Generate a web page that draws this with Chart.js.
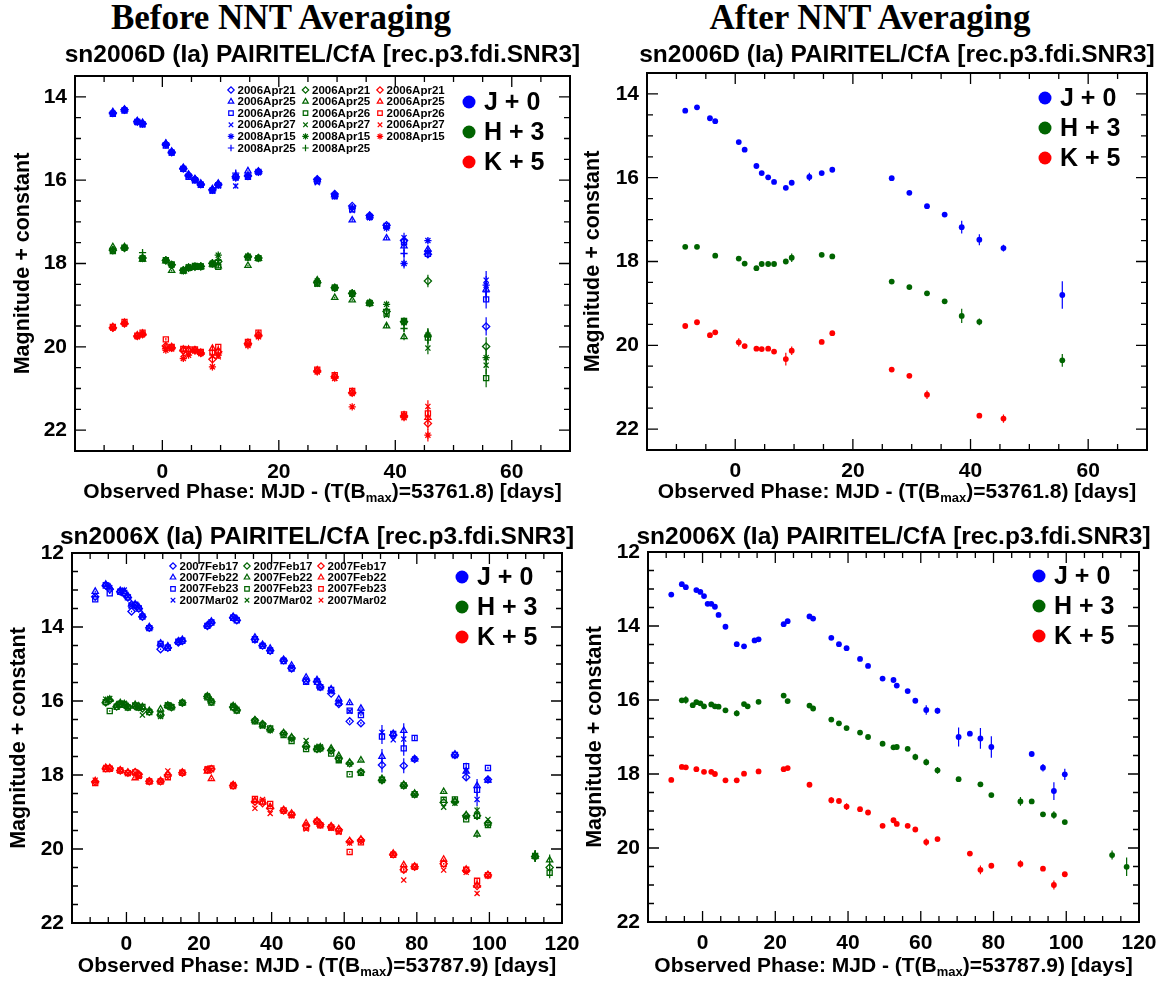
<!DOCTYPE html>
<html>
<head>
<meta charset="utf-8">
<script src="https://cdn.jsdelivr.net/npm/chart.js@4.4.1/dist/chart.umd.min.js"></script>
<style>
  body { margin: 0; background: #fff; width: 1163px; height: 981px; position: relative; overflow: hidden; }
  .head { position: absolute; top: 0; height: 36px; line-height: 36px; text-align: center;
          font-family: "Liberation Serif", "DejaVu Serif", serif; font-weight: bold; font-size: 35px; color: #000; }
  canvas { position: absolute; }
</style>
</head>
<body>
<div class="head" style="left:0;width:562px">Before NNT Averaging</div>
<div class="head" style="left:600px;width:540px">After NNT Averaging</div>
<canvas id="tl" width="581" height="482" style="left:0;top:30px"></canvas>
<canvas id="tr" width="582" height="482" style="left:581px;top:30px"></canvas>
<canvas id="bl" width="581" height="469" style="left:0;top:512px"></canvas>
<canvas id="br" width="582" height="469" style="left:581px;top:512px"></canvas>
<script>
// ---------- sn2006D ----------
const phaseD = [-8.5,-6.5,-4.3,-3.4,0.6,1.6,3.6,4.5,5.6,6.6,8.6,9.6,12.6,14.7,16.5,26.6,29.6,32.6,35.6,38.5,41.5,45.6,55.6];
const tmplD = ['2006Apr21','2006Apr25','2006Apr26','2006Apr27','2008Apr15','2008Apr25'];

// per template, before averaging
const jD_Apr21 = [14.39,14.31,14.60,14.64,15.14,15.33,15.72,15.88,15.98,16.10,16.23,16.10,15.92,15.90,15.80,15.98,16.33,16.62,16.85,17.08,17.45,17.78,19.51];
const jD_Apr25 = [14.36,14.30,14.58,14.62,15.12,15.31,15.70,15.86,15.97,16.08,16.21,16.08,15.90,15.78,15.79,15.99,16.35,16.96,16.86,17.39,17.58,17.66,18.62];
const jD_Apr26 = [14.41,14.33,14.60,14.66,15.17,15.34,15.73,15.92,16.00,16.11,16.25,16.12,15.93,15.92,15.80,16.02,16.38,16.70,16.88,17.10,17.49,17.77,18.86];
const jD_Apr27 = [14.40,14.32,14.62,14.67,15.16,15.35,15.74,15.90,16.02,16.12,16.26,16.14,16.14,15.91,15.82,16.06,16.40,16.73,16.90,17.12,17.38,17.73,18.40];
const jD_08Apr15 = [14.40,14.31,14.59,14.65,15.15,15.33,15.72,15.89,16.00,16.10,16.24,16.12,15.95,15.90,15.81,16.00,16.37,16.66,16.89,17.15,18.00,17.45,18.52];
const jD_08Apr25 = [14.38,14.30,14.57,14.64,15.11,15.32,15.71,15.88,15.99,16.09,16.22,16.10,15.83,15.88,15.78,15.99,16.38,16.68,16.89,17.13,17.76,17.70,18.68];
const jD_err = [.02,.02,.02,.02,.03,.02,.02,.02,.02,.02,.02,.02,.06,.02,.02,.02,.02,.04,.02,.04,.12,.05,.22];

const hD_Apr21 = [17.68,17.63,null,17.87,17.93,18.03,18.16,18.10,18.08,18.07,18.00,17.95,null,17.84,17.87,18.46,18.58,18.72,18.95,19.15,19.40,18.42,19.99];
const hD_Apr25 = [17.60,17.60,null,17.90,17.94,18.17,18.18,18.12,18.10,18.08,18.02,18.06,null,18.05,17.88,18.40,18.82,18.88,18.96,19.50,19.76,19.70,null];
const hD_Apr26 = [17.70,17.62,null,17.88,17.92,18.02,18.17,18.10,18.06,18.07,18.02,18.08,null,17.86,17.87,18.48,18.58,18.73,18.95,19.20,19.38,19.78,20.75];
const hD_Apr27 = [17.69,17.63,null,17.90,17.93,18.04,18.19,18.12,18.09,18.09,18.01,17.96,null,17.84,17.88,18.50,18.60,18.74,18.96,19.24,19.42,20.03,20.44];
const hD_08Apr15 = [17.68,17.62,null,17.87,17.92,18.03,18.17,18.08,18.07,18.06,17.99,17.80,null,17.82,17.88,18.42,18.57,18.70,18.93,18.98,19.40,19.72,20.26];
const hD_08Apr25 = [17.66,17.61,null,17.74,17.92,18.04,18.16,18.10,18.07,18.07,17.98,17.92,null,17.85,17.86,18.44,18.60,18.72,18.94,19.10,19.56,19.76,null];
const hD_err = [.02,.02,null,.03,.02,.02,.02,.02,.02,.02,.02,.03,null,.02,.02,.02,.02,.02,.02,.05,.08,.15,.22];

const kD_Apr21 = [19.54,19.44,19.74,19.70,19.98,20.02,20.08,20.10,20.08,20.15,20.30,20.12,null,19.92,19.72,20.58,20.72,21.10,null,null,21.66,21.84,null];
const kD_Apr25 = [19.52,19.42,19.72,19.68,20.00,20.00,20.06,20.06,20.08,20.14,20.04,20.10,null,19.90,19.70,20.56,20.70,21.08,null,null,21.64,21.70,null];
const kD_Apr26 = [19.52,19.40,19.73,19.66,19.82,20.00,20.05,20.06,20.06,20.12,20.14,20.00,null,19.88,19.66,20.55,20.68,21.06,null,null,21.62,21.60,null];
const kD_Apr27 = [19.55,19.45,19.76,19.71,20.04,20.05,20.18,20.14,20.10,20.16,20.22,20.24,null,19.95,19.74,20.60,20.76,21.12,null,null,21.68,21.43,null];
const kD_08Apr15 = [19.55,19.44,19.75,19.70,20.08,20.03,20.28,20.20,20.10,20.16,20.48,20.20,null,19.97,19.76,20.60,20.75,21.44,null,null,21.70,22.12,null];
const kD_err = [.02,.02,.02,.02,.03,.02,.04,.02,.02,.02,.08,.04,null,.02,.02,.02,.02,.04,null,null,.06,.15,null];

// after averaging
const jD_avg = [14.40,14.32,14.58,14.65,15.15,15.33,15.72,15.89,15.99,16.10,16.24,16.12,15.98,15.89,15.81,16.01,16.36,16.68,16.88,17.18,17.48,17.68,18.80];
const jD_avgErr = [.02,.02,.02,.02,.02,.02,.02,.02,.02,.02,.02,.03,.10,.02,.02,.02,.02,.02,.03,.15,.13,.08,.33];
const hD_avg = [17.65,17.65,null,17.86,17.93,18.05,18.16,18.06,18.06,18.06,18.00,17.91,null,17.84,17.88,18.48,18.61,18.76,18.95,19.30,19.44,null,20.36];
const hD_avgErr = [.02,.02,null,.02,.02,.02,.02,.02,.02,.02,.02,.10,null,.02,.02,.02,.02,.02,.02,.17,.08,null,.15];
const kD_avg = [19.54,19.45,19.76,19.69,19.93,20.02,20.08,20.09,20.08,20.15,20.33,20.13,null,19.92,19.71,20.58,20.73,21.18,null,null,21.68,21.75,null];
const kD_avgErr = [.02,.02,.02,.02,.10,.02,.02,.02,.02,.02,.15,.10,null,.02,.02,.02,.02,.10,null,null,.05,.10,null];

// ---------- sn2006X ----------
const phaseX = [-8.6,-5.7,-4.6,-2.7,-1.7,-0.6,0.4,1.4,2.4,3.4,4.4,6.3,9.4,11.4,12.4,14.3,15.4,22.3,23.4,29.4,30.4,35.4,37.5,39.6,43.3,45.5,49.5,52.5,53.4,56.4,58.5,61.5,64.6,70.4,73.5,76.4,79.4,87.4,90.5,93.6,96.6,99.6,112.6,116.6];
const tmplX = ['2007Feb17','2007Feb22','2007Feb23','2007Mar02'];

const jX_Feb17 = [13.18,12.88,12.98,null,13.04,13.10,13.20,13.58,13.42,13.50,13.72,14.02,14.60,14.56,null,14.42,14.38,13.97,13.88,13.74,13.82,14.34,14.50,14.64,14.90,15.12,15.45,15.48,15.62,15.80,16.08,16.55,16.60,17.73,16.92,17.75,17.57,null,17.46,18.06,null,18.12,null,null];
const jX_Feb22 = [13.04,12.85,12.92,null,13.02,13.04,13.16,13.38,13.38,13.46,13.68,14.00,14.44,14.52,null,14.38,14.34,13.95,13.85,13.72,13.78,14.28,14.48,14.58,14.88,15.04,15.36,15.43,15.60,15.68,15.95,16.05,16.20,17.50,16.88,16.80,17.57,null,17.44,17.90,18.29,18.14,null,null];
const jX_Feb23 = [13.25,12.88,13.09,null,13.05,13.08,13.20,13.42,13.40,13.50,13.72,14.03,14.46,14.56,null,14.40,14.37,13.97,13.88,13.75,13.82,14.33,14.51,14.64,14.92,15.12,15.48,15.48,15.63,15.70,16.05,16.26,16.38,16.96,16.89,17.28,17.00,null,17.46,17.76,18.40,17.81,null,null];
const jX_Mar02 = [13.15,12.86,12.94,null,13.03,13.00,13.18,13.42,13.41,13.49,13.71,14.02,14.48,14.55,null,14.40,14.36,13.96,13.87,13.74,13.80,14.36,14.50,14.62,14.90,15.10,15.44,15.46,15.62,15.75,16.02,16.28,16.30,16.85,17.05,17.03,17.57,null,17.47,17.88,18.66,18.14,null,null];
const jX_err = [.02,.02,.02,null,.02,.02,.02,.02,.02,.02,.02,.02,.02,.02,null,.02,.02,.02,.02,.02,.02,.02,.02,.02,.02,.02,.02,.02,.02,.02,.02,.03,.03,.20,.02,.20,.06,null,.02,.09,.18,.03,null,null];

const hX_Feb17 = [null,16.04,15.98,16.15,16.08,16.10,16.16,null,16.14,16.16,16.20,16.29,16.38,16.13,16.17,null,16.05,15.88,16.02,16.16,16.24,16.52,16.62,16.77,16.88,17.00,17.22,17.30,17.28,17.34,17.56,17.68,17.92,18.14,null,18.28,18.52,18.74,18.72,19.10,19.10,19.30,20.20,20.50];
const hX_Feb22 = [null,16.00,15.96,16.12,16.05,16.08,16.15,null,16.10,16.14,16.16,16.26,16.22,16.12,16.16,null,16.05,15.87,16.00,16.13,16.22,16.52,16.64,16.76,16.86,16.98,17.20,17.27,17.25,17.28,17.48,17.66,17.60,18.10,null,18.26,18.50,18.45,18.70,19.08,19.60,19.30,20.20,20.30];
const hX_Feb23 = [null,16.03,16.27,16.16,16.08,16.10,16.18,null,16.12,16.18,16.16,16.30,16.36,16.12,16.17,null,16.05,15.90,16.04,16.17,16.26,16.55,16.66,16.74,16.92,17.08,17.30,17.30,17.28,17.42,17.60,17.98,17.94,18.13,null,18.28,18.52,18.67,18.66,19.20,19.10,19.35,20.19,20.64];
const hX_Mar02 = [null,15.95,15.93,16.14,16.06,16.06,16.16,null,16.12,16.18,16.38,16.28,16.42,16.10,16.15,null,16.04,15.86,16.00,16.12,16.22,16.54,16.68,16.80,16.88,17.02,17.07,17.26,17.24,17.36,17.58,17.70,17.95,18.15,null,18.30,18.54,18.87,18.76,19.12,18.95,19.20,20.18,null];
const hX_err = [null,.02,.02,.02,.02,.02,.02,null,.02,.02,.02,.02,.02,.02,.02,null,.02,.02,.02,.02,.02,.02,.02,.02,.02,.02,.02,.02,.02,.02,.02,.02,.02,.03,null,.02,.02,.02,.02,.02,.10,.02,.15,.15];

const kX_Feb17 = [18.18,17.82,17.82,null,17.88,null,17.94,null,17.92,17.98,null,18.17,18.17,18.00,null,null,17.94,17.86,17.84,18.28,null,18.72,18.76,18.90,18.96,19.06,19.38,19.25,19.34,19.40,19.48,19.80,19.76,null,20.14,20.56,20.48,20.40,null,20.58,21.00,20.70,null,null];
const kX_Feb22 = [18.16,17.80,17.81,null,17.87,null,17.93,null,18.08,18.00,null,18.17,18.16,17.98,null,null,17.93,17.90,18.10,18.27,null,18.70,18.74,18.86,18.94,19.04,19.30,19.24,19.33,19.38,19.46,19.78,19.74,null,20.12,20.43,20.47,20.28,null,20.55,20.98,20.70,null,null];
const kX_Feb23 = [18.22,17.84,17.83,null,17.88,null,17.95,null,17.93,18.02,null,18.18,18.18,18.06,null,null,17.94,17.86,17.82,18.30,null,18.65,18.72,18.78,18.96,19.08,19.42,19.26,19.36,19.42,19.52,20.08,19.82,null,20.16,20.55,20.48,20.40,null,20.56,20.86,20.71,null,null];
const kX_Mar02 = [18.14,17.80,17.84,null,17.88,null,17.96,null,17.95,18.04,null,18.16,18.16,17.89,null,null,17.93,17.83,17.86,18.26,null,18.90,18.66,19.04,18.97,19.10,19.46,19.27,19.36,19.44,19.55,19.84,19.78,null,20.14,20.84,20.49,20.57,null,20.63,21.20,20.72,null,null];
const kX_err = [.02,.02,.02,null,.02,null,.02,null,.02,.02,null,.02,.02,.02,null,null,.02,.02,.02,.02,null,.02,.02,.02,.02,.02,.02,.02,.02,.02,.02,.02,.02,null,.02,.03,.02,.02,null,.02,.05,.02,null,null];

const jX_avg = [13.15,12.87,12.95,null,13.03,13.08,13.19,13.40,13.40,13.48,13.70,14.02,14.49,14.55,null,14.39,14.36,13.95,13.87,13.74,13.80,14.32,14.49,14.60,14.89,15.08,15.42,15.46,15.61,15.76,16.02,16.27,16.29,17.00,16.91,17.04,17.27,null,17.46,17.83,18.46,18.01,null,null];
const jX_avgErr = [.02,.02,.02,null,.02,.02,.02,.04,.03,.03,.02,.02,.02,.02,null,.02,.02,.02,.02,.02,.02,.02,.02,.02,.02,.02,.02,.02,.02,.02,.02,.13,.08,.26,.05,.28,.29,null,.02,.10,.24,.15,null,null];
const hX_avg = [null,16.01,16.00,16.14,16.06,16.09,16.17,null,16.12,16.17,16.18,16.28,16.36,16.11,16.17,null,16.05,15.88,16.03,16.15,16.23,16.53,16.63,16.76,16.88,17.00,17.18,17.28,17.27,17.32,17.54,17.68,17.90,18.14,null,18.28,18.57,18.74,18.74,19.09,19.11,19.30,20.19,20.51];
const hX_avgErr = [null,.03,.10,.02,.02,.02,.02,null,.02,.02,.06,.02,.08,.02,.02,null,.02,.02,.02,.02,.02,.02,.02,.02,.02,.02,.07,.02,.02,.02,.09,.09,.09,.02,null,.02,.02,.12,.02,.03,.10,.02,.12,.25];
const kX_avg = [18.16,17.81,17.82,null,17.87,null,17.94,null,17.94,18.00,null,18.17,18.17,17.99,null,null,17.93,17.87,17.84,18.29,null,18.71,18.73,18.88,18.95,19.04,19.40,19.25,19.35,19.40,19.50,19.84,19.76,null,20.15,20.59,20.48,20.43,null,20.56,21.00,20.71,null,null];
const kX_avgErr = [.02,.02,.02,null,.02,null,.02,null,.02,.02,null,.02,.02,.02,null,null,.02,.02,.02,.02,null,.08,.04,.09,.02,.02,.02,.02,.02,.02,.02,.10,.03,null,.02,.12,.02,.10,null,.02,.12,.02,null,null];

// axes and labels
const bandLabels = ['J + 0', 'H + 3', 'K + 5'];
const xTicksD = [0, 20, 40, 60];
const xTicksX = [0, 20, 40, 60, 80, 100, 120];
const yTicksD = [14, 16, 18, 20, 22];
const yTicksX = [12, 14, 16, 18, 20, 22];
const titleD = 'sn2006D (Ia) PAIRITEL/CfA [rec.p3.fdi.SNR3]';
const titleX = 'sn2006X (Ia) PAIRITEL/CfA [rec.p3.fdi.SNR3]';
const tmaxD = '53761.8';
const tmaxX = '53787.9';

// ---------- drawing ----------
const FONT = '"Liberation Sans", Arial, Helvetica, sans-serif';
const bandColors = ['#0000ff', '#006400', '#ff0000'];
const tmplStyles = ['rectRot', 'triangle', 'rect', 'crossRot', 'star', 'cross'];
const YW = 70, XH = 40;

function pts(days, mags, errs) {
  const out = [];
  days.forEach((d, i) => {
    if (mags[i] != null) out.push({ x: d, y: mags[i], e: errs ? (errs[i] || 0) : 0 });
  });
  return out;
}

function drawMarker(ctx, style, r, x, y) {
  const h = Chart.helpers;
  if (h && h.drawPoint) {
    h.drawPoint(ctx, { pointStyle: style, radius: r, rotation: 0, borderWidth: ctx.lineWidth }, x, y);
  } else {
    ctx.beginPath(); ctx.arc(x, y, r, 0, Math.PI * 2); ctx.fill(); ctx.stroke();
  }
}

function panelPlugin(cfg) {
  return {
    id: 'panel',
    beforeDatasetsDraw(chart) {
      const ctx = chart.ctx, ys = chart.scales.y;
      chart.data.datasets.forEach((ds, i) => {
        const meta = chart.getDatasetMeta(i);
        ctx.save();
        ctx.strokeStyle = ds.borderColor;
        ctx.lineWidth = 1.2;
        ctx.beginPath();
        ds.data.forEach((p, j) => {
          if (!p.e) return;
          const el = meta.data[j];
          ctx.moveTo(el.x, ys.getPixelForValue(p.y - p.e));
          ctx.lineTo(el.x, ys.getPixelForValue(p.y + p.e));
        });
        ctx.stroke();
        ctx.restore();
      });
    },
    afterDraw(chart) {
      const ctx = chart.ctx, xs = chart.scales.x, ys = chart.scales.y;
      const { left, right, top, bottom } = chart.chartArea;
      const ox = cfg.box.x, oy = cfg.box.y;
      ctx.save();
      // inward ticks on all four sides
      ctx.strokeStyle = '#000';
      ctx.lineWidth = 1.3;
      ctx.beginPath();
      for (let k = Math.ceil(xs.min / 5); k * 5 <= xs.max; k++) {
        const px = xs.getPixelForValue(k * 5);
        const len = k % 4 === 0 ? 11 : 6;
        ctx.moveTo(px, bottom); ctx.lineTo(px, bottom - len);
        ctx.moveTo(px, top); ctx.lineTo(px, top + len);
      }
      for (let k = Math.ceil(ys.min * 2); k <= Math.floor(ys.max * 2); k++) {
        const py = ys.getPixelForValue(k / 2);
        const len = k % 4 === 0 ? 11 : 6;
        ctx.moveTo(left, py); ctx.lineTo(left + len, py);
        ctx.moveTo(right, py); ctx.lineTo(right - len, py);
      }
      ctx.stroke();
      ctx.lineWidth = 2;
      ctx.strokeRect(left, top, right - left, bottom - top);

      ctx.fillStyle = '#000';
      ctx.textBaseline = 'middle';
      // panel title
      ctx.textAlign = 'center';
      ctx.font = 'bold 24.5px ' + FONT;
      ctx.fillText(cfg.title, (left + right) / 2, cfg.titleY - oy);
      // y title
      ctx.save();
      ctx.translate(cfg.yTitleX - ox, (top + bottom) / 2);
      ctx.rotate(-Math.PI / 2);
      ctx.font = 'bold 21.5px ' + FONT;
      ctx.fillText('Magnitude + constant', 0, 0);
      ctx.restore();
      // x title with subscript
      const parts = [['Observed Phase: MJD - (T(B', 0], ['max', 1], [')=' + cfg.tmax + ') [days]', 0]];
      const fMain = 'bold 21px ' + FONT, fSub = 'bold 13px ' + FONT;
      let total = 0;
      parts.forEach(p => { ctx.font = p[1] ? fSub : fMain; p.push(ctx.measureText(p[0]).width); total += p[2]; });
      let cx = (left + right) / 2 - total / 2;
      const ty = cfg.xTitleY - oy;
      ctx.textAlign = 'left';
      parts.forEach(p => {
        ctx.font = p[1] ? fSub : fMain;
        ctx.fillText(p[0], cx, p[1] ? ty + 6 : ty);
        cx += p[2];
      });
      // band legend
      bandLabels.forEach((lab, i) => {
        const y = cfg.leg.y - oy + i * 30;
        ctx.fillStyle = bandColors[i];
        ctx.beginPath(); ctx.arc(cfg.leg.x - ox, y, 6.5, 0, Math.PI * 2); ctx.fill();
        ctx.fillStyle = '#000';
        ctx.font = 'bold 25px ' + FONT;
        ctx.fillText(lab, cfg.leg.x - ox + 15, y + 1);
      });
      // template legend
      if (cfg.tmpl) {
        const t = cfg.tmpl;
        ctx.font = 'bold 11.5px ' + FONT;
        t.cols.forEach((n, c) => {
          for (let r = 0; r < n; r++) {
            const x = t.x - ox + c * t.dx, y = t.y - oy + r * t.dy;
            ctx.strokeStyle = bandColors[c];
            ctx.fillStyle = 'rgba(0,0,0,0)';
            ctx.lineWidth = 1.2;
            drawMarker(ctx, tmplStyles[r], 3.2, x, y);
            ctx.fillStyle = '#000';
            ctx.fillText(t.names[r], x + 6.5, y + 0.5);
          }
        });
      }
      ctx.restore();
    }
  };
}

function makeChart(id, cfg, datasets) {
  const f = cfg.frame, b = cfg.box;
  const padding = {
    left: f.l - b.x - YW,
    top: f.t - b.y,
    right: b.x + b.w - f.r,
    bottom: b.y + b.h - f.b - XH
  };
  const tickFont = { family: FONT, size: 21, weight: 'bold' };
  return new Chart(document.getElementById(id), {
    type: 'scatter',
    data: { datasets },
    options: {
      responsive: false,
      animation: false,
      events: [],
      layout: { padding },
      plugins: { legend: { display: false }, tooltip: { enabled: false }, title: { display: false } },
      scales: {
        x: {
          type: 'linear', min: cfg.xr[0], max: cfg.xr[1],
          grid: { display: false, drawTicks: false }, border: { display: false },
          ticks: { font: tickFont, color: '#000', padding: 9, autoSkip: false, maxRotation: 0 },
          afterBuildTicks: s => { s.ticks = cfg.xt.map(v => ({ value: v })); },
          afterFit: s => { s.height = XH; s.paddingLeft = 0; s.paddingRight = 0; }
        },
        y: {
          type: 'linear', reverse: true, min: cfg.yr[0], max: cfg.yr[1],
          grid: { display: false, drawTicks: false }, border: { display: false },
          ticks: { font: tickFont, color: '#000', padding: 8, autoSkip: false },
          afterBuildTicks: s => { s.ticks = cfg.yt.map(v => ({ value: v })); },
          afterFit: s => { s.width = YW; s.paddingTop = 0; s.paddingBottom = 0; }
        }
      }
    },
    plugins: [panelPlugin(cfg)]
  });
}

function tmplSets(days, bands) {
  const sets = [];
  bands.forEach((b, bi) => {
    b.series.forEach((mags, ti) => {
      sets.push({
        data: pts(days, mags, b.err),
        pointStyle: tmplStyles[ti], pointRadius: 3.6, pointBorderWidth: 1.3,
        borderColor: bandColors[bi], backgroundColor: 'rgba(0,0,0,0)', showLine: false
      });
    });
  });
  return sets;
}

function avgSets(days, bands) {
  return bands.map((b, bi) => ({
    data: pts(days, b.mag, b.err),
    pointStyle: 'circle', pointRadius: 2.9, pointBorderWidth: 0,
    borderColor: bandColors[bi], backgroundColor: bandColors[bi], showLine: false
  }));
}

makeChart('tl', {
  box: { x: 0, y: 30, w: 581, h: 482 }, frame: { l: 75, t: 76, r: 570, b: 451 },
  xr: [-15, 70], yr: [13.5, 22.5], xt: xTicksD, yt: yTicksD,
  title: titleD, titleY: 55, yTitleX: 23, xTitleY: 492, tmax: tmaxD,
  leg: { x: 469, y: 102 },
  tmpl: { x: 231, y: 90, dx: 74.5, dy: 11.6, cols: [6, 6, 5], names: tmplD }
}, tmplSets(phaseD, [
  { series: [jD_Apr21, jD_Apr25, jD_Apr26, jD_Apr27, jD_08Apr15, jD_08Apr25], err: jD_err },
  { series: [hD_Apr21, hD_Apr25, hD_Apr26, hD_Apr27, hD_08Apr15, hD_08Apr25], err: hD_err },
  { series: [kD_Apr21, kD_Apr25, kD_Apr26, kD_Apr27, kD_08Apr15], err: kD_err }
]));

makeChart('tr', {
  box: { x: 581, y: 30, w: 582, h: 482 }, frame: { l: 647, t: 73, r: 1147, b: 450 },
  xr: [-15, 70], yr: [13.5, 22.5], xt: xTicksD, yt: yTicksD,
  title: titleD, titleY: 55, yTitleX: 593, xTitleY: 492, tmax: tmaxD,
  leg: { x: 1045, y: 98 }
}, avgSets(phaseD, [
  { mag: jD_avg, err: jD_avgErr }, { mag: hD_avg, err: hD_avgErr }, { mag: kD_avg, err: kD_avgErr }
]));

makeChart('bl', {
  box: { x: 0, y: 512, w: 581, h: 469 }, frame: { l: 72, t: 553, r: 562, b: 923 },
  xr: [-15, 120], yr: [12, 22], xt: xTicksX, yt: yTicksX,
  title: titleX, titleY: 537, yTitleX: 19, xTitleY: 966, tmax: tmaxX,
  leg: { x: 462, y: 577 },
  tmpl: { x: 173, y: 566, dx: 74, dy: 11.4, cols: [4, 4, 4], names: tmplX }
}, tmplSets(phaseX, [
  { series: [jX_Feb17, jX_Feb22, jX_Feb23, jX_Mar02], err: jX_err },
  { series: [hX_Feb17, hX_Feb22, hX_Feb23, hX_Mar02], err: hX_err },
  { series: [kX_Feb17, kX_Feb22, kX_Feb23, kX_Mar02], err: kX_err }
]));

makeChart('br', {
  box: { x: 581, y: 512, w: 582, h: 469 }, frame: { l: 648, t: 552, r: 1139, b: 922 },
  xr: [-15, 120], yr: [12, 22], xt: xTicksX, yt: yTicksX,
  title: titleX, titleY: 537, yTitleX: 595, xTitleY: 966, tmax: tmaxX,
  leg: { x: 1039, y: 576 }
}, avgSets(phaseX, [
  { mag: jX_avg, err: jX_avgErr }, { mag: hX_avg, err: hX_avgErr }, { mag: kX_avg, err: kX_avgErr }
]));
</script>
</body>
</html>
